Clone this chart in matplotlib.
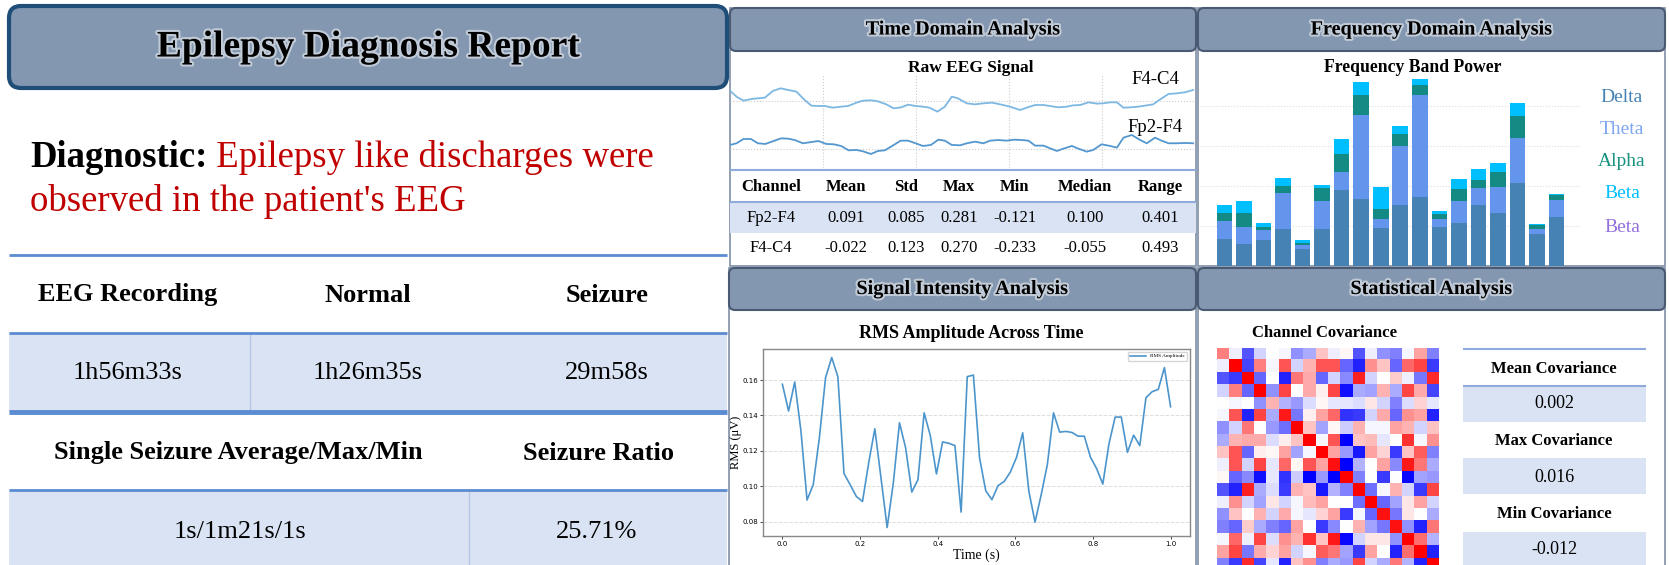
import numpy as np
import matplotlib.pyplot as plt
from matplotlib.patches import FancyBboxPatch, Rectangle
import matplotlib.patheffects as pe

plt.rcParams['font.family'] = ['Liberation Serif', 'DejaVu Sans']

W, H = 1669, 565

# ---------------- data ----------------
diag_label = 'Diagnostic:'
diag_text = ['Epilepsy like discharges were', "observed in the patient's EEG"]

summary_head = ['EEG Recording', 'Normal', 'Seizure']
summary_vals = ['1h56m33s', '1h26m35s', '29m58s']
seizure_head = ['Single Seizure Average/Max/Min', 'Seizure Ratio']
seizure_vals = ['1s/1m21s/1s', '25.71%']

stat_cols = ['Channel', 'Mean', 'Std', 'Max', 'Min', 'Median', 'Range']
stats_fp2f4 = ['Fp2-F4', '0.091', '0.085', '0.281', '-0.121', '0.100', '0.401']
stats_f4c4 = ['F4-C4', '-0.022', '0.123', '0.270', '-0.233', '-0.055', '0.493']

# raw EEG traces (time in s, amplitude relative to channel offset)
t_f4c4 = [0.0, 0.014, 0.029, 0.046, 0.060, 0.075, 0.092, 0.109, 0.125, 0.143,
          0.159, 0.175, 0.189, 0.204, 0.221, 0.239, 0.254, 0.272, 0.286, 0.304,
          0.318, 0.336, 0.352, 0.368, 0.383, 0.399, 0.415, 0.429, 0.446, 0.462,
          0.477, 0.490, 0.509, 0.527, 0.545, 0.563, 0.581, 0.602, 0.624, 0.638,
          0.656, 0.674, 0.688, 0.706, 0.724, 0.738, 0.753, 0.771, 0.789, 0.803,
          0.817, 0.832, 0.846, 0.860, 0.878, 0.892, 0.910, 0.925, 0.943, 0.961,
          0.978, 0.996]
eeg_f4c4 = [0.217, 0.091, 0.007, 0.042, 0.056, 0.070, 0.210, 0.266, 0.231, 0.196,
            0.035, -0.098, -0.105, -0.105, -0.140, -0.119, -0.105, -0.035, 0.007, 0.014,
            -0.007, -0.070, -0.154, -0.133, -0.077, -0.105, -0.119, -0.140, -0.224, -0.119,
            0.091, 0.056, -0.049, -0.070, -0.049, -0.035, -0.070, -0.119, -0.189, -0.140,
            -0.084, -0.084, -0.105, -0.133, -0.119, -0.091, -0.084, -0.028, -0.056, -0.049,
            -0.028, -0.028, -0.140, -0.133, -0.119, -0.098, -0.070, 0.035, 0.147, 0.161,
            0.182, 0.231]
t_fp2f4 = [0.0, 0.014, 0.029, 0.045, 0.060, 0.076, 0.092, 0.110, 0.125, 0.139,
           0.157, 0.175, 0.190, 0.207, 0.223, 0.239, 0.255, 0.272, 0.286, 0.303,
           0.318, 0.333, 0.351, 0.367, 0.383, 0.399, 0.415, 0.432, 0.448, 0.462,
           0.477, 0.495, 0.509, 0.527, 0.545, 0.559, 0.577, 0.595, 0.610, 0.627,
           0.642, 0.656, 0.674, 0.688, 0.703, 0.717, 0.735, 0.749, 0.767, 0.781,
           0.799, 0.814, 0.832, 0.846, 0.864, 0.882, 0.896, 0.914, 0.928, 0.943,
           0.961, 0.978, 0.996]
eeg_fp2f4 = [0.078, 0.113, 0.203, 0.203, 0.113, 0.099, 0.155, 0.217, 0.210, 0.182,
             0.113, 0.140, 0.161, 0.099, 0.092, 0.057, -0.034, -0.027, -0.055, -0.111,
             -0.048, -0.034, 0.071, 0.168, 0.168, 0.113, 0.057, 0.078, 0.189, 0.168,
             0.078, 0.071, 0.113, 0.147, 0.113, 0.168, 0.182, 0.168, 0.189, 0.182,
             0.168, 0.064, 0.064, 0.008, -0.048, 0.001, 0.057, 0.001, -0.062, -0.027,
             0.092, 0.064, 0.022, 0.231, 0.287, 0.182, 0.113, 0.231, 0.168, 0.113,
             0.113, 0.120, 0.113]

# band power per epoch
band_names = ['Delta', 'Theta', 'Alpha', 'Beta', 'Beta']
delta = [0.67, 0.54, 0.65, 0.92, 0.42, 0.92, 1.90, 1.68, 0.96, 1.53, 1.73, 0.98, 1.08, 1.53, 1.32, 2.08, 0.80, 1.23]
theta = [0.46, 0.44, 0.25, 0.90, 0.11, 0.70, 0.45, 2.10, 0.22, 1.47, 2.55, 0.20, 0.55, 0.43, 0.66, 1.11, 0.12, 0.42]
alpha = [0.19, 0.34, 0.08, 0.18, 0.04, 0.32, 0.45, 0.50, 0.24, 0.30, 0.25, 0.13, 0.30, 0.20, 0.37, 0.56, 0.10, 0.13]
beta = [0.21, 0.30, 0.09, 0.19, 0.07, 0.09, 0.37, 0.32, 0.55, 0.20, 0.15, 0.07, 0.25, 0.27, 0.23, 0.32, 0.04, 0.03]

rms = [0.1576, 0.1425, 0.1589, 0.1315, 0.0923, 0.1009, 0.1274, 0.1613, 0.1727, 0.1619,
       0.1072, 0.1009, 0.0943, 0.0915, 0.1132, 0.1325, 0.1047, 0.0768, 0.1019, 0.1359,
       0.1217, 0.0968, 0.1038, 0.1415, 0.1287, 0.1070, 0.1251, 0.1243, 0.1230, 0.0855,
       0.1619, 0.1628, 0.1160, 0.0975, 0.0925, 0.1004, 0.1028, 0.1081, 0.1164, 0.1302,
       0.0972, 0.0798, 0.0953, 0.1123, 0.1415, 0.1306, 0.1310, 0.1304, 0.1283, 0.1283,
       0.1164, 0.1100, 0.1013, 0.1240, 0.1391, 0.1391, 0.1192, 0.1289, 0.1230, 0.1500,
       0.1534, 0.1547, 0.1670, 0.1449]

cov = [
    [1.5, -0.2, -2, -0.5, 0, -0.1, -1.3, -1, 0.7, -0.2, 0.1, -2, -0.2, -1.3, -1.5, -0.1, 1.1, -1.5],
    [-0.2, 3, -2.2, 1.5, -0.1, 2, -0.5, 0.9, 2, 2, -1.8, -2.6, 1.3, 0.7, -1.8, 1.8, 2.2, -2.3],
    [-2, -2.3, 3, -1.8, 0, -2.6, 1.6, 1, -1.8, -0.5, -1.4, 2.6, -0.5, 0, 0.6, -0.2, -1.6, 2.5],
    [-0.5, 1.5, -1.8, 3, -1.3, 2.2, 0, 1, 0.2, 2.2, -2.8, -1, -1.1, 0.9, -1, 2.2, 1, -2.2],
    [0, -0.1, 0, -1.3, 0.9, -0.9, -1.2, -0.4, 0.1, -0.3, -0.3, -0.4, 0.3, -0.5, -1.5, -0.4, 0.5, -0.3],
    [-0.1, 2, -2.6, 2.2, -1, 2.7, -1.6, 0.2, 1.1, 1.8, -2.4, -2.3, -0.5, 1, -1.8, 1.3, 1.1, -2.6],
    [-1.3, -0.5, 1.6, 0, -1.2, -1.7, 3, 0.7, -1.1, 0.1, -0.6, 0.9, -0.1, -0.1, 1.1, 0.9, -0.5, 0.7],
    [-1, 0.9, 1, 1, -0.4, 0.2, 0.7, 3, -0.1, 2, -3, 0.7, 0.8, -0.3, 0, 2.4, -0.1, 1.3],
    [0.7, 2, -1.8, 0.2, 0.1, 1.1, -1.1, -0.1, 3, 1.1, -1.2, -2.7, 1.1, 0.5, -2.3, 0.7, 1.9, -1.5],
    [-0.2, 2, -0.5, 2.2, -0.3, 1.8, 0.1, 2, 1.1, 2.8, -3, -0.9, 0, 1.1, -1.4, 2.7, 1.6, -1],
    [0.1, -1.8, -1.4, -2.8, -0.3, -2.4, -0.6, -3, -1.2, -3, 3, -1.5, 0, -2.3, 0, -2.9, -1.1, -1.2],
    [-2, -2.6, 2.6, -1, -0.4, -2.3, 0.9, 0.7, -2.7, -0.9, -1.5, 3, -1.7, -0.1, 0.9, -0.5, -2.3, 2.2],
    [-0.2, 1.3, -0.5, -1.1, 0.3, -0.5, -0.1, 0.8, 1.1, 0, 0, -1.7, 3, -1.8, -1.1, 0.3, 1.1, -0.5],
    [-1.3, 0.7, 0, 0.9, -0.5, 1, -0.1, -0.3, 0.5, 1.1, -2.3, -0.1, -1.8, 2.8, -1.6, 0.3, 0, -1],
    [-1.5, -1.8, 0.6, -1, -1.5, -1.8, 1.1, 0, -2.3, -1.4, 0, 0.9, -1.1, -1.6, 2.8, -1.3, -2.6, 1.6],
    [-0.1, 1.8, -0.2, 2.2, -0.4, 1.3, 0.9, 2.4, 0.7, 2.7, -2.9, -0.5, 0.3, 0.3, -1.3, 3, 1.7, -0.9],
    [1.1, 2.2, -1.6, 1, 0.5, 1.1, -0.5, -0.1, 1.9, 1.6, -1.1, -2.3, 1.1, 0, -2.6, 1.7, 3, -2.6],
    [-1.5, -2.3, 2.5, -2.2, -0.3, -2.6, 0.7, 1.3, -1.5, -1, -1.2, 2.2, -0.5, -1, 1.6, -0.9, -2.6, 3],
]
cov_names = ['Mean Covariance', 'Max Covariance', 'Min Covariance']
cov_vals = ['0.002', '0.016', '-0.012']

# ---------------- style ----------------
HEAD_FILL = '#8497B0'
HEAD_EDGE = '#4A5A72'
ROW_FILL = '#DAE3F3'
LINE_BLUE = '#5B8BD0'
BORDER = '#7F8FA6'
glow = [pe.withStroke(linewidth=3, foreground='#DCE2EA', alpha=0.7)]

fig = plt.figure(figsize=(W / 100, H / 100), dpi=100)
bg = fig.add_axes([0, 0, 1, 1])
bg.set_xlim(0, W)
bg.set_ylim(H, 0)
bg.axis('off')


def px_axes(x0, y0, x1, y1):
    return fig.add_axes([x0 / W, 1 - y1 / H, (x1 - x0) / W, (y1 - y0) / H])


def header(x0, y0, x1, y1, title, size=14.5, r=6, lw=1.5, edge=HEAD_EDGE):
    bg.add_patch(FancyBboxPatch((x0 + r, y0 + r), x1 - x0 - 2 * r, y1 - y0 - 2 * r,
                                boxstyle=f'round,pad={r}', fc=HEAD_FILL, ec=edge, lw=lw, zorder=3))
    bg.text((x0 + x1) / 2, (y0 + y1) / 2, title, ha='center', va='center', fontsize=size,
            fontweight='bold', path_effects=glow, zorder=4)


def hline(y, x0, x1, lw=2, color=LINE_BLUE):
    bg.plot([x0, x1], [y, y], color=color, lw=lw, solid_capstyle='butt', zorder=2)


# ---------------- left report ----------------
header(9, 6, 727, 88, 'Epilepsy Diagnosis Report', size=27, r=12, lw=3, edge='#1F4E79')

t1 = bg.text(30, 167, diag_label, fontsize=26.5, fontweight='bold', va='baseline')
bg.annotate(' ' + diag_text[0], xy=(1, 0), xycoords=t1, va='bottom', fontsize=26.5, color='#C00000')
bg.text(30, 211, diag_text[1], fontsize=26.5, va='baseline', color='#C00000')

bg.add_patch(Rectangle((9, 333), 718, 79, fc=ROW_FILL, ec='none', zorder=1))
bg.add_patch(Rectangle((9, 490), 718, 80, fc=ROW_FILL, ec='none', zorder=1))
bg.plot([250, 250], [333, 412], color='#B4C7E7', lw=1, zorder=2)
bg.plot([469, 469], [490, 565], color='#B4C7E7', lw=1, zorder=2)
hline(255, 9, 727)
hline(333, 9, 727)
hline(412, 9, 727, lw=3.5)
hline(490, 9, 727)

for xc, txt in zip([128, 368, 607], summary_head):
    bg.text(xc, 295, txt, ha='center', va='center', fontsize=19, fontweight='bold')
for xc, txt in zip([128, 368, 607], summary_vals):
    bg.text(xc, 373, txt, ha='center', va='center', fontsize=19)
for xc, txt in zip([238, 598], seizure_head):
    bg.text(xc, 453, txt, ha='center', va='center', fontsize=19, fontweight='bold')
for xc, txt in zip([240, 597], seizure_vals):
    bg.text(xc, 532, txt, ha='center', va='center', fontsize=19)

# ---------------- panel frames ----------------
for (x0, y0, x1, y1) in [(730, 8, 1196, 266), (1198, 8, 1665, 266),
                         (729, 268, 1196, 580), (1198, 268, 1665, 580)]:
    bg.add_patch(Rectangle((x0, y0), x1 - x0, y1 - y0, fc='white', ec=BORDER, lw=1.2, zorder=0.5))

header(730, 8, 1196, 51, 'Time Domain Analysis')
header(1198, 8, 1665, 51, 'Frequency Domain Analysis')
header(729, 268, 1196, 310, 'Signal Intensity Analysis')
header(1198, 268, 1665, 310, 'Statistical Analysis')

# ---------------- time domain ----------------
bg.text(971, 68, 'Raw EEG Signal', ha='center', va='center', fontsize=12.5, fontweight='bold', zorder=4)
ax1 = px_axes(730, 75, 1196, 168)
ax1.plot(t_f4c4, np.array(eeg_f4c4) + 1, color='#7DB8E3', lw=1.3)
ax1.plot(t_fp2f4, eeg_fp2f4, color='#5497CF', lw=1.3)
ax1.set_xlim(0, 1.002)
ax1.set_ylim(-0.405, 1.545)
ax1.set_xticks([0.2, 0.4, 0.6, 0.8])
ax1.set_yticks([0, 1])
ax1.grid(True, linestyle=':', color='#CCCCCC', lw=0.8)
ax1.tick_params(length=0, labelbottom=False, labelleft=False)
for s in ax1.spines.values():
    s.set_visible(False)
ax1.patch.set_alpha(0)
bg.text(1155, 80, 'F4-C4', ha='center', va='center', fontsize=13.5, zorder=4)
bg.text(1155, 128, 'Fp2-F4', ha='center', va='center', fontsize=13.5, zorder=4)

bg.add_patch(Rectangle((730, 202), 466, 31, fc=ROW_FILL, ec='none', zorder=1))
hline(170, 730, 1196, lw=1.5, color='#8FAADC')
hline(202, 730, 1196, lw=1.5, color='#8FAADC')
col_x = [771, 846, 906, 959, 1015, 1085, 1160]
for xc, txt in zip(col_x, stat_cols):
    bg.text(xc, 187, txt, ha='center', va='center', fontsize=12, fontweight='bold')
for xc, txt in zip(col_x, stats_fp2f4):
    bg.text(xc, 218, txt, ha='center', va='center', fontsize=12)
for xc, txt in zip(col_x, stats_f4c4):
    bg.text(xc, 248, txt, ha='center', va='center', fontsize=12)

# ---------------- frequency domain ----------------
bg.text(1413, 67, 'Frequency Band Power', ha='center', va='center', fontsize=12.7, fontweight='bold', zorder=4)
ax2 = px_axes(1201, 72, 1580, 266)
x = np.arange(len(delta))
b1 = np.array(delta)
b2 = b1 + np.array(theta)
b3 = b2 + np.array(alpha)
ax2.bar(x, delta, 0.8, color='#4682B4')
ax2.bar(x, theta, 0.8, bottom=b1, color='#6495ED')
ax2.bar(x, alpha, 0.8, bottom=b2, color='#138A83')
ax2.bar(x, beta, 0.8, bottom=b3, color='#00BFFF')
ax2.set_xlim(-1.2, 18.2)
ax2.set_ylim(0, 4.85)
ax2.set_yticks([1, 2, 3, 4])
ax2.grid(axis='y', linestyle=':', color='#DDDDDD', lw=0.8)
ax2.set_axisbelow(True)
ax2.tick_params(length=0, labelbottom=False, labelleft=False)
for s in ax2.spines.values():
    s.set_visible(False)
ax2.patch.set_alpha(0)
band_colors = ['#4682B4', '#7FA6EE', '#1A9480', '#00BFFF', '#9370DB']
for yc, name, c in zip([98, 129, 162, 193, 227], band_names, band_colors):
    bg.text(1622, yc, name, ha='center', va='center', fontsize=14, color=c, zorder=4)

# ---------------- signal intensity ----------------
bg.text(971, 333, 'RMS Amplitude Across Time', ha='center', va='center', fontsize=13, fontweight='bold', zorder=4)
ax3 = px_axes(763, 349, 1190, 536)
tt = np.linspace(0, 1, len(rms))
ax3.plot(tt, rms, color='#4C95CC', lw=1.2, label='RMS Amplitude')
ax3.set_xticks([0.0, 0.2, 0.4, 0.6, 0.8, 1.0])
ax3.set_yticks([0.08, 0.10, 0.12, 0.14, 0.16])
ax3.grid(axis='y', linestyle='--', color='#DDDDDD', lw=0.7)
ax3.tick_params(labelsize=5, length=2, width=0.5, pad=1.5)
for lab in ax3.get_xticklabels() + ax3.get_yticklabels():
    lab.set_family('DejaVu Sans')
ax3.set_xlabel('Time (s)', fontsize=10, labelpad=1)
ax3.set_ylabel('RMS (μV)', fontsize=9)
ax3.yaxis.set_label_coords(-0.049, 0.5)
for s in ax3.spines.values():
    s.set_color('#888888')
    s.set_linewidth(1.0)
ax3.legend(loc='upper right', fontsize=3.8, handlelength=3, frameon=True)

# ---------------- statistical ----------------
bg.text(1324, 333, 'Channel Covariance', ha='center', va='center', fontsize=12, fontweight='bold', zorder=4)
ax4 = px_axes(1217.3, 347.7, 1439.3, 569.7)
ax4.imshow(np.array(cov), cmap='bwr', vmin=-3, vmax=3, aspect='auto', interpolation='nearest')
ax4.axis('off')

hline(349, 1463, 1646, lw=1.5, color='#8FAADC')
hline(386, 1463, 1646, lw=1.5, color='#8FAADC')
for yt, yv, y0, y1, name, val in zip([369, 441, 514], [404, 477, 550], [386, 458, 532], [422, 494, 570],
                                     cov_names, cov_vals):
    bg.add_patch(Rectangle((1463, y0), 183, y1 - y0, fc=ROW_FILL, ec='none', zorder=1))
    bg.text(1554, yt, name, ha='center', va='center', fontsize=12, fontweight='bold', zorder=4)
    bg.text(1554, yv, val, ha='center', va='center', fontsize=13, zorder=4)

fig.savefig('out.png', dpi=100)
